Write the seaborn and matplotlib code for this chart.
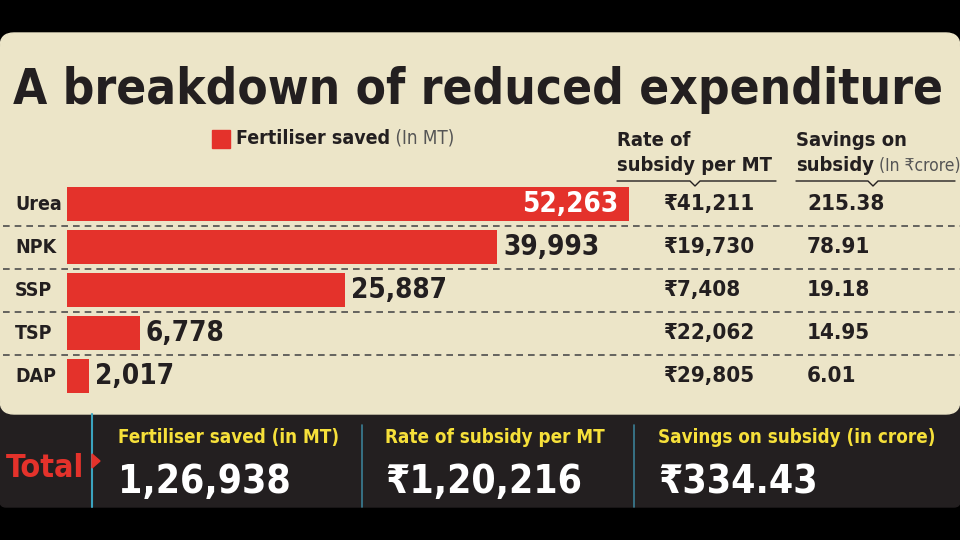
import numpy as np
import pandas as pd
import matplotlib.pyplot as plt
import matplotlib.transforms as mtrans
from matplotlib.patches import FancyBboxPatch, Rectangle, Polygon
from matplotlib.lines import Line2D
import seaborn as sns

fertilisers = ["Urea", "NPK", "SSP", "TSP", "DAP"]
saved_mt = [52263, 39993, 25887, 6778, 2017]
rate_per_mt = [41211, 19730, 7408, 22062, 29805]
savings_crore = [215.38, 78.91, 19.18, 14.95, 6.01]

total_saved = 126938
total_rate = 120216
total_savings = 334.43

RED = "#e4322b"
BEIGE = "#ece5c8"
DARK = "#231f20"
INK = "#231f20"
YELLOW = "#f6e03a"
TEAL = "#3ba3bf"

W, H = 960, 540
FONTS = ["Liberation Sans Narrow", "DejaVu Sans"]


def indian(n):
    # indian digit grouping: 1,26,938
    s = str(int(n))
    if len(s) <= 3:
        return s
    head, tail = s[:-3], s[-3:]
    parts = []
    while len(head) > 2:
        parts.insert(0, head[-2:])
        head = head[:-2]
    if head:
        parts.insert(0, head)
    return ",".join(parts + [tail])


sns.set_theme(style="white")
plt.rcParams["font.family"] = FONTS
plt.rcParams["font.stretch"] = "condensed"

fig = plt.figure(figsize=(9.6, 5.4), dpi=100)
fig.patch.set_facecolor("black")

# background axes in pixel coordinates
bg = fig.add_axes([0, 0, 1, 1], zorder=0)
bg.set_xlim(0, W)
bg.set_ylim(H, 0)
bg.set_axis_off()

bg.add_patch(FancyBboxPatch((0, 398), W, 109, boxstyle="round,pad=0,rounding_size=6",
                            color=DARK, zorder=1))
bg.add_patch(FancyBboxPatch((0, 33), W, 381, boxstyle="round,pad=0,rounding_size=14",
                            color=BEIGE, zorder=2))

bg.text(13, 104, "A breakdown of reduced expenditure", fontsize=35.5, fontweight="bold",
        color=INK, va="baseline", zorder=5)

# legend
bg.add_patch(Rectangle((212, 130), 18, 18, color=RED, zorder=5))
leg = bg.text(236, 148, "Fertiliser saved", fontsize=14, fontweight="bold", color=INK,
              va="bottom", zorder=5)
bg.annotate(" (In MT)", xy=(1, 0), xycoords=leg, fontsize=13.5, color="#555",
            fontweight="light", va="bottom", zorder=5)

# column headers
bg.text(617, 146, "Rate of", fontsize=14.5, fontweight="bold", color=INK, zorder=5)
bg.text(617, 171, "subsidy per MT", fontsize=14.5, fontweight="bold", color=INK, zorder=5)
bg.text(796, 146, "Savings on", fontsize=14.5, fontweight="bold", color=INK, zorder=5)
sub = bg.text(796, 175, "subsidy", fontsize=14.5, fontweight="bold", color=INK,
              va="bottom", zorder=5)
bg.annotate(" (In ₹crore)", xy=(1, 0), xycoords=sub, fontsize=12.5, color="#555",
            fontweight="light", va="bottom", zorder=5)
for x0, x1, xm in [(617, 776, 695), (796, 955, 873)]:
    bg.add_line(Line2D([x0, xm - 5, xm, xm + 5, x1], [181, 181, 186, 181, 181],
                       color=INK, lw=1, zorder=5))

# bars
k = 562 / saved_mt[0]
ax = fig.add_axes([0, 1 - 397.5 / H, 1, 215 / H], zorder=3)
ax.patch.set_alpha(0)
df = pd.DataFrame({"fertiliser": fertilisers, "saved": saved_mt})
sns.barplot(data=df, x="saved", y="fertiliser", orient="h", color=RED, width=0.81,
            saturation=1, linewidth=0, ax=ax)
ax.set_xlim(-67 / k, (W - 67) / k)
ax.set_ylim(4.5, -0.5)
ax.set_axis_off()

tr = mtrans.blended_transform_factory(ax.transAxes, ax.transData)
ax.hlines([0.5, 1.5, 2.5, 3.5], 0.003, 1, transform=tr, colors="#4d4d4d", lw=1.2,
          linestyles=(0, (4, 3)))

for i, name in enumerate(fertilisers):
    ax.text(15 / W, i, name, transform=tr, fontsize=14, fontweight="bold", color=INK,
            va="center")
    v = saved_mt[i]
    if v == max(saved_mt):
        ax.annotate(indian(v), (v, i), xytext=(-11, 0), textcoords="offset pixels",
                    ha="right", va="center", fontsize=20, fontweight="bold", color="white")
    else:
        ax.annotate(indian(v), (v, i), xytext=(6, 0), textcoords="offset pixels",
                    ha="left", va="center", fontsize=20, fontweight="bold", color=INK)
    ax.text(663 / W, i, "₹" + indian(rate_per_mt[i]), transform=tr, fontsize=16,
            fontweight="semibold", color=INK, va="center")
    ax.text(807 / W, i, f"{savings_crore[i]:.2f}", transform=tr, fontsize=16,
            fontweight="bold", color=INK, va="center")

# totals panel
bg.text(6, 477, "Total", fontsize=23, fontweight="bold", color=RED, zorder=5)
bg.add_patch(Polygon([(92, 454), (100, 461), (92, 468)], color=RED, zorder=5))
bg.add_line(Line2D([92, 92], [414, 507], color=TEAL, lw=1.5, zorder=4))
for xs in [362, 634]:
    bg.add_line(Line2D([xs, xs], [425, 507], color="#3a7f95", lw=1.2, zorder=5))

totals = [
    (118, "Fertiliser saved (in MT)", indian(total_saved)),
    (385, "Rate of subsidy per MT", "₹" + indian(total_rate)),
    (658, "Savings on subsidy (in crore)", f"₹{total_savings:.2f}"),
]
for x, head, val in totals:
    bg.text(x, 443, head, fontsize=13.5, fontweight="bold", color=YELLOW, zorder=5)
    bg.text(x, 493, val, fontsize=28, fontweight="bold", color="white", zorder=5)

fig.savefig("out.png", dpi=100, facecolor=fig.get_facecolor())
